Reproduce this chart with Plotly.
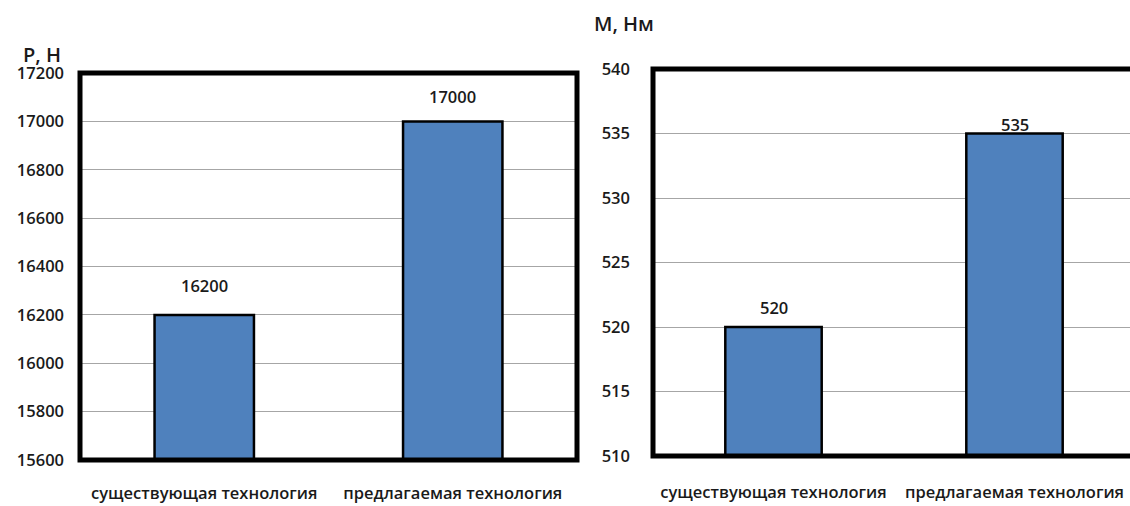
import plotly.graph_objects as go

# Categories and measured values
categories = ["существующая технология", "предлагаемая технология"]
force_values = [16200, 17000]          # P, Н
moment_values = [520, 535]             # M, Нм
force_ticks = [15600, 15800, 16000, 16200, 16400, 16600, 16800, 17000, 17200]
moment_ticks = [510, 515, 520, 525, 530, 535, 540]

# vertical offsets (px) of value labels above bar tops
force_label_shift = [29, 25]
moment_label_shift = [20, 9]

BAR_COLOR = "#4F81BD"
FONT = "Open Sans"
W, H = 1130, 506

# plot areas in pixels (left, right, top, bottom)
L1 = (80, 577, 73, 460)
L2 = (653, 1130, 69, 456)


def dom_x(a, b):
    return [a / W, b / W]


def dom_y(top, bottom):
    return [1 - bottom / H, 1 - top / H]


fig = go.Figure()

fig.add_trace(go.Bar(
    x=categories, y=force_values, xaxis="x", yaxis="y",
    marker=dict(color=BAR_COLOR, line=dict(color="black", width=2.5)),
    width=0.4, showlegend=False, hoverinfo="skip",
))
fig.add_trace(go.Bar(
    x=categories, y=moment_values, xaxis="x2", yaxis="y2",
    marker=dict(color=BAR_COLOR, line=dict(color="black", width=2.5)),
    width=0.4, showlegend=False, hoverinfo="skip",
))

tick_font = dict(family=FONT, size=16.5, color="#1a1a1a", weight=600)
cat_font = dict(family=FONT, size=16.5, color="#1a1a1a", weight=600)

# right chart continues past the page edge
right_span = 1.5 - (1135 - 1130) / 241.0

common_x = dict(showgrid=False, showline=False, zeroline=False, ticks="",
                tickfont=cat_font, automargin=False)
common_y = dict(showgrid=True, gridcolor="#a6a6a6", gridwidth=1,
                zeroline=False, showline=False, ticks="", tickformat="d",
                tickfont=tick_font, automargin=False)

fig.update_layout(
    width=W, height=H,
    margin=dict(l=0, r=0, t=0, b=0, autoexpand=False),
    paper_bgcolor="white", plot_bgcolor="white",
    xaxis=dict(domain=dom_x(L1[0], L1[1]), anchor="y", range=[-0.5, 1.5],
               ticklabelstandoff=21, **common_x),
    yaxis=dict(domain=dom_y(L1[2], L1[3]), anchor="x", range=[15600, 17200],
               tickvals=force_ticks, ticklabelstandoff=15, **common_y),
    xaxis2=dict(domain=dom_x(L2[0], L2[1]), anchor="y2",
                range=[-0.5, right_span], ticklabelstandoff=24, **common_x),
    yaxis2=dict(domain=dom_y(L2[2], L2[3]), anchor="x2", range=[510, 540],
                tickvals=moment_ticks, ticklabelstandoff=22, **common_y),
)

shapes = []
x0, x1 = dom_x(L1[0], L1[1])
y0, y1 = dom_y(L1[2], L1[3])
shapes.append(dict(type="rect", xref="paper", yref="paper",
                   x0=x0, x1=x1, y0=y0, y1=y1,
                   line=dict(color="black", width=5)))
x0, x1 = dom_x(L2[0], L2[1])
y0, y1 = dom_y(L2[2], L2[3])
shapes.append(dict(type="path", xref="paper", yref="paper",
                   path=f"M 1.01 {y1} L {x0} {y1} L {x0} {y0} L 1.01 {y0}",
                   line=dict(color="black", width=5)))
fig.update_layout(shapes=shapes)

annotations = []
label_font = dict(family=FONT, size=16.5, color="#1a1a1a", weight=600)
for cat, val, sh in zip(categories, force_values, force_label_shift):
    annotations.append(dict(x=cat, y=val, xref="x", yref="y", text=str(val),
                            showarrow=False, yshift=sh, font=label_font))
for cat, val, sh in zip(categories, moment_values, moment_label_shift):
    annotations.append(dict(x=cat, y=val, xref="x2", yref="y2", text=str(val),
                            showarrow=False, yshift=sh, font=label_font))

title_font = dict(family=FONT, size=20, color="#1a1a1a", weight=600)
annotations.append(dict(x=42 / W, y=1 - 54 / H, xref="paper", yref="paper",
                        text="Р, Н", showarrow=False, font=title_font,
                        xanchor="center", yanchor="middle"))
annotations.append(dict(x=624 / W, y=1 - 24 / H, xref="paper", yref="paper",
                        text="М, Нм", showarrow=False, font=title_font,
                        xanchor="center", yanchor="middle"))
fig.update_layout(annotations=annotations)

fig.write_html("out.html")
